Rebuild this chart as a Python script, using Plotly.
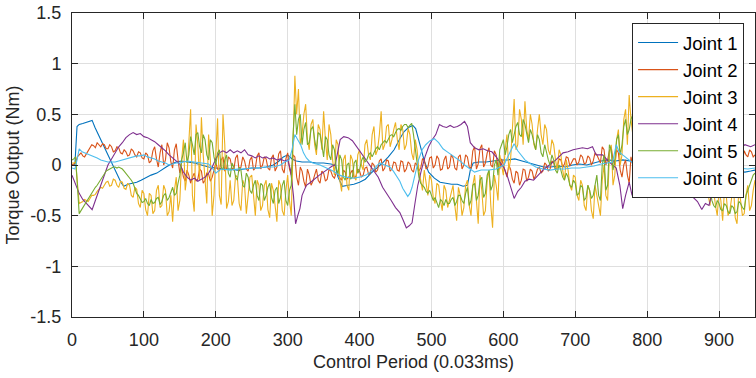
import plotly.graph_objects as go

# ---------------- data ----------------
period = list(range(0, 955, 5))                 # samples at 0, 5, ..., 950
period_mid = [p + 2.5 for p in range(0, 950, 5)]  # samples at 2.5, 7.5, ..., 947.5

joint1_pts = [(0,0.0),(4,0.0),(7,0.38),(10,0.40),(15,0.41),(20,0.42),(25,0.43),(28,0.44),(32,0.37),(38,0.28),
    (44,0.19),(50,0.10),(56,0.01),(62,-0.08),(68,-0.17),(72,-0.21),(78,-0.19),(84,-0.18),(90,-0.17),(96,-0.15),
    (104,-0.12),(110,-0.10),(118,-0.08),(124,-0.05),(131,-0.02),(138,0.01),(145,0.03),(152,0.04),(160,0.03),(170,0.02),
    (180,0.0),(190,-0.02),(200,-0.03),(210,-0.04),(220,-0.04),(230,-0.05),(240,-0.04),(250,-0.03),(260,-0.03),(270,-0.02),
    (280,0.0),(288,0.04),(294,0.08),(300,0.1),(306,0.06),(312,0.04),(320,0.03),(330,0.03),(340,0.02),(350,0.02),
    (360,0.01),(366,0.0),(370,-0.12),(376,-0.21),(384,-0.2),(392,-0.19),(400,-0.17),(408,-0.14),(416,-0.08),(424,-0.03),
    (432,0.02),(440,0.08),(448,0.15),(456,0.26),(462,0.33),(468,0.37),(474,0.39),(478,0.36),(484,0.2),(490,0.04),
    (496,-0.07),(504,-0.13),(512,-0.17),(520,-0.18),(528,-0.19),(536,-0.19),(544,-0.21),(550,-0.2),(554,-0.05),(558,0.02),
    (566,0.03),(576,0.03),(586,0.04),(596,0.05),(606,0.05),(616,0.06),(626,0.04),(636,0.02),(646,0.0),(656,-0.02),
    (666,-0.02),(676,-0.01),(686,-0.02),(696,0.0),(706,0.01),(716,0.0),(726,0.02),(736,0.04),(746,0.05),(756,0.04),
    (766,0.05),(776,0.04),(786,0.03),(796,0.02),(806,0.02),(816,0.01),(826,0.0),(836,-0.02),(846,-0.03),(856,-0.03),
    (866,-0.02),(876,-0.01),(886,0.0),(896,-0.01),(906,-0.03),(916,-0.05),(926,-0.06),(936,-0.07),(944,-0.06),(950,-0.05)]

joint2 = [0.00, 0.02, 0.10, 0.09, 0.11, 0.16, 0.19, 0.22, 0.18, 0.20,
    0.16, 0.18, 0.14, 0.17, 0.11, 0.13, 0.10, 0.14, 0.08, 0.12,
    0.06, 0.10, 0.04, 0.18, -0.02, 0.20, 0.05, 0.17, -0.03, 0.21,
    -0.08, -0.12, -0.05, -0.18, -0.08, -0.14, -0.06, -0.15, -0.09, -0.12,
    0.02, -0.06, 0.08, -0.04, 0.06, -0.05, 0.10, -0.02, 0.04, -0.06,
    0.08, -0.03, 0.12, 0.00, 0.06, -0.05, 0.10, -0.02, 0.14, -0.08,
    0.12, -0.10, 0.08, -0.20, -0.06, -0.22, -0.10, -0.16, -0.04, -0.18,
    -0.08, -0.14, -0.06, -0.13, -0.09, -0.15, -0.07, -0.12, -0.05, -0.11,
    -0.06, -0.10, -0.02, -0.08, 0.00, -0.05, 0.06, -0.03, 0.04, -0.04,
    0.02, -0.06, 0.03, -0.04, 0.01, -0.07, 0.00, -0.03, 0.05, -0.02,
    0.08, 0.00, 0.06, -0.04, 0.09, -0.02, 0.07, -0.05, 0.10, 0.00,
    0.08, -0.03, 0.18, 0.01, 0.20, 0.02, 0.17, -0.02, 0.10, -0.04,
    0.00, -0.12, -0.04, -0.18, -0.08, -0.15, -0.05, -0.12, -0.06, -0.10,
    -0.02, -0.06, 0.00, -0.04, 0.02, -0.02, 0.05, 0.01, 0.07, 0.02,
    0.06, 0.03, 0.08, 0.02, 0.07, 0.04, 0.10, 0.02, 0.15, 0.05,
    0.18, 0.00, 0.12, -0.12, 0.05, -0.18, -0.02, -0.15, -0.22, -0.10,
    -0.24, -0.12, -0.20, -0.08, -0.10, -0.02, -0.06, 0.00, -0.04, 0.02,
    -0.03, 0.03, -0.02, 0.04, 0.00, 0.05, 0.01, 0.06, 0.02, 0.05,
    0.03, 0.07, 0.02, 0.08, 0.04, 0.10, 0.06, 0.14, 0.08, 0.13,
    0.10]

joint2_mid = [0.01, 0.08, 0.12, 0.08, 0.14, 0.20, 0.17, 0.20, 0.21, 0.16,
    0.20, 0.13, 0.18, 0.12, 0.15, 0.09, 0.16, 0.10, 0.13, 0.07,
    0.12, 0.02, 0.14, 0.06, 0.12, 0.00, 0.22, 0.03, 0.15, 0.05,
    -0.03, -0.16, -0.10, -0.12, -0.16, -0.04, -0.18, -0.08, -0.16, -0.05,
    -0.04, 0.05, -0.06, 0.08, -0.03, 0.07, -0.06, 0.08, -0.04, 0.05,
    -0.05, 0.09, -0.04, 0.08, -0.03, 0.07, -0.06, 0.11, -0.04, 0.06,
    -0.04, 0.10, -0.12, -0.02, -0.16, -0.04, -0.20, -0.10, -0.15, -0.06,
    -0.16, -0.04, -0.11, -0.08, -0.13, -0.05, -0.14, -0.08, -0.13, -0.04,
    -0.12, -0.03, -0.09, 0.02, -0.07, 0.04, -0.06, 0.05, -0.06, 0.03,
    -0.05, 0.04, -0.07, 0.03, -0.05, 0.02, -0.06, 0.06, -0.04, 0.07,
    -0.03, 0.09, -0.05, 0.05, -0.04, 0.10, -0.03, 0.08, -0.04, 0.10,
    -0.02, 0.14, -0.04, 0.16, -0.02, 0.12, 0.00, 0.14, -0.02, 0.06,
    -0.08, 0.00, -0.14, -0.06, -0.20, -0.04, -0.16, -0.04, -0.14, -0.04,
    -0.08, 0.02, -0.06, 0.04, -0.05, 0.06, -0.02, 0.08, -0.01, 0.06,
    0.00, 0.10, 0.01, 0.09, 0.00, 0.12, 0.05, 0.18, 0.00, 0.14,
    0.05, 0.15, -0.05, 0.00, -0.10, 0.08, -0.08, 0.00, -0.15, -0.18,
    -0.15, -0.20, -0.10, -0.14, -0.04, -0.08, 0.02, -0.05, 0.03, -0.02,
    0.02, -0.02, 0.03, -0.01, 0.04, -0.01, 0.05, 0.00, 0.07, 0.01,
    0.06, 0.02, 0.09, 0.03, 0.06, 0.12, 0.04, 0.10, 0.15, 0.08]

joint3 = [0.02, 0.03, -0.38, -0.36, -0.35, -0.33, -0.30, -0.26, -0.22, -0.20,
    -0.16, -0.20, -0.15, -0.22, -0.17, -0.24, -0.20, -0.32, -0.24, -0.42,
    -0.28, -0.50, -0.30, -0.45, -0.20, -0.40, -0.25, -0.46, -0.56, -0.12,
    -0.35, 0.25, -0.10, 0.55, -0.46, 0.20, 0.47, -0.20, 0.30, -0.50,
    0.10, -0.30, 0.50, -0.43, -0.15, -0.35, -0.12, -0.45, -0.20, -0.30,
    -0.10, -0.50, -0.20, -0.40, -0.15, -0.52, -0.25, -0.56, -0.20, -0.50,
    -0.10, -0.50, 0.88, 0.75, 0.30, 0.60, 0.15, 0.45, 0.10, 0.35,
    0.53, 0.05, 0.30, -0.10, 0.20, -0.26, 0.10, -0.25, 0.05, -0.15,
    0.15, -0.05, 0.25, 0.05, 0.38, 0.15, 0.53, 0.20, 0.40, 0.25,
    0.42, 0.15, 0.35, 0.20, 0.30, 0.05, 0.15, -0.15, -0.05, -0.30,
    -0.15, -0.38, -0.20, -0.45, -0.25, -0.35, -0.20, -0.55, -0.30, -0.42,
    -0.15, -0.50, -0.10, -0.58, -0.25, -0.45, -0.05, -0.62, -0.20, 0.10,
    -0.10, 0.30, 0.05, 0.65, 0.20, 0.45, 0.63, 0.25, 0.40, 0.15,
    0.50, 0.20, 0.35, 0.10, 0.20, -0.05, 0.10, -0.15, -0.05, -0.25,
    -0.12, -0.35, -0.20, -0.45, -0.25, -0.53, -0.30, -0.50, 0.00, -0.35,
    0.20, -0.10, 0.35, 0.10, 0.55, 0.69, 0.30, 0.50, 0.10, -0.10,
    -0.15, 0.05, -0.10, 0.10, -0.05, 0.15, 0.00, 0.10, -0.05, 0.08,
    -0.10, 0.00, -0.12, -0.05, -0.15, -0.10, -0.20, -0.30, -0.15, -0.40,
    -0.25, -0.55, -0.30, -0.45, -0.20, -0.58, -0.35, -0.48, -0.20, -0.40,
    -0.15]

joint3_mid = [0.02, -0.20, -0.37, -0.34, -0.36, -0.30, -0.29, -0.24, -0.23, -0.17,
    -0.21, -0.14, -0.20, -0.16, -0.23, -0.18, -0.30, -0.22, -0.38, -0.25,
    -0.44, -0.28, -0.48, -0.25, -0.42, -0.20, -0.50, -0.30, -0.25, -0.45,
    0.05, -0.25, 0.30, -0.30, 0.40, -0.15, 0.10, -0.38, 0.05, -0.30,
    0.46, -0.39, 0.20, -0.36, -0.40, -0.10, -0.38, -0.15, -0.48, -0.12,
    -0.35, -0.15, -0.45, -0.20, -0.44, -0.18, -0.40, -0.15, -0.45, -0.25,
    -0.35, 0.20, 0.50, 0.20, 0.50, 0.25, 0.40, 0.20, 0.40, 0.15,
    0.25, 0.40, 0.05, 0.25, -0.15, 0.05, -0.20, 0.10, -0.12, 0.10,
    0.00, 0.20, 0.10, 0.30, 0.10, 0.30, 0.15, 0.38, 0.18, 0.35,
    0.25, 0.40, 0.15, 0.36, 0.12, 0.25, -0.05, -0.25, -0.20, -0.10,
    -0.32, -0.18, -0.35, -0.20, -0.42, -0.28, -0.40, -0.22, -0.50, -0.20,
    -0.40, -0.20, -0.35, -0.10, -0.50, -0.15, -0.40, -0.10, -0.35, 0.00,
    0.15, -0.05, 0.35, 0.15, 0.55, 0.20, 0.35, 0.50, 0.20, 0.35,
    0.30, 0.40, 0.15, 0.25, 0.05, 0.15, -0.05, 0.05, -0.20, -0.10,
    -0.30, -0.15, -0.40, -0.20, -0.45, -0.20, -0.40, -0.15, -0.30, 0.10,
    -0.20, 0.25, 0.00, 0.45, 0.20, 0.45, 0.60, 0.20, 0.30, 0.05,
    0.00, -0.15, 0.05, -0.10, 0.10, -0.05, 0.12, -0.08, 0.05, -0.12,
    0.02, -0.15, 0.00, -0.20, -0.05, -0.28, -0.12, -0.40, -0.25, -0.50,
    -0.35, -0.25, -0.50, -0.30, -0.52, -0.25, -0.50, -0.30, -0.45, -0.25]

joint4_pts = [(0,-0.1),(5,-0.2),(10,-0.28),(15,-0.34),(20,-0.38),(25,-0.42),(28,-0.44),(32,-0.36),(36,-0.28),(40,-0.2),
    (45,-0.1),(50,0.0),(55,0.06),(60,0.12),(65,0.18),(70,0.22),(75,0.27),(80,0.3),(85,0.32),(90,0.3),
    (95,0.31),(100,0.28),(105,0.27),(110,0.25),(115,0.23),(120,0.2),(125,0.17),(130,0.14),(135,0.1),(140,0.07),
    (145,0.04),(150,0.01),(155,-0.07),(160,-0.12),(165,-0.15),(170,-0.13),(175,-0.16),(180,-0.14),(185,-0.12),(190,-0.08),
    (195,-0.02),(200,0.06),(205,0.12),(210,0.14),(215,0.12),(220,0.15),(225,0.12),(230,0.14),(235,0.12),(240,0.15),
    (245,0.1),(250,0.09),(255,0.07),(260,0.09),(265,0.07),(270,0.08),(275,0.06),(280,0.07),(285,0.05),(290,0.06),
    (295,0.04),(300,0.05),(304,-0.05),(308,-0.3),(311,-0.58),(314,-0.5),(317,-0.43),(320,-0.3),(326,-0.2),(332,-0.17),
    (338,-0.13),(344,-0.1),(350,-0.07),(356,-0.04),(362,-0.01),(366,0.0),(370,0.15),(373,0.25),(378,0.28),(384,0.27),
    (390,0.24),(396,0.18),(402,0.12),(408,0.06),(414,0.0),(420,-0.06),(426,-0.12),(432,-0.22),(438,-0.28),(444,-0.35),
    (450,-0.42),(456,-0.47),(461,-0.55),(465,-0.62),(469,-0.6),(473,-0.57),(477,-0.38),(481,-0.2),(486,-0.05),(491,0.08),
    (496,0.18),(501,0.25),(506,0.3),(511,0.4),(516,0.38),(521,0.37),(526,0.39),(531,0.37),(536,0.38),(541,0.4),
    (546,0.43),(550,0.38),(554,0.22),(560,0.17),(566,0.15),(572,0.16),(578,0.14),(584,0.13),(590,0.08),(596,0.02),
    (601,-0.03),(606,-0.12),(611,-0.23),(615,-0.33),(620,-0.26),(625,-0.22),(630,-0.16),(636,-0.14),(642,-0.15),(648,-0.1),
    (655,-0.05),(664,0.0),(673,0.05),(683,0.12),(690,0.13),(697,0.15),(704,0.16),(710,0.17),(717,0.16),(724,0.18),
    (729,0.1),(738,0.1),(747,0.03),(752,0.0),(757,-0.03),(762,-0.2),(766,-0.43),(770,-0.3),(775,-0.17),(779,-0.3),
    (783,-0.1),(790,0.0),(800,0.05),(810,0.08),(820,0.1),(830,0.08),(840,0.0),(846,-0.1),(852,-0.18),(858,-0.25),
    (864,-0.32),(870,-0.36),(876,-0.44),(881,-0.38),(886,-0.4),(891,-0.25),(896,-0.15),(902,-0.05),(908,0.0),(914,0.05),
    (920,0.1),(928,0.16),(936,0.2),(944,0.18),(950,0.2)]

joint5 = [0.05, 0.08, -0.48, -0.42, -0.37, -0.30, -0.25, -0.20, -0.14, -0.08,
    -0.05, -0.03, -0.02, -0.02, -0.04, -0.08, -0.12, -0.18, -0.28, -0.33,
    -0.36, -0.38, -0.34, -0.37, -0.32, -0.36, -0.28, -0.32, -0.22, -0.28,
    -0.10, 0.12, 0.02, 0.28, 0.10, 0.32, 0.12, 0.25, 0.05, 0.22,
    0.00, 0.15, -0.05, 0.10, -0.12, -0.02, -0.15, -0.05, -0.22, -0.12,
    -0.28, -0.15, -0.35, -0.20, -0.30, -0.18, -0.38, -0.22, -0.32, -0.15,
    -0.40, -0.20, 0.60, 0.45, 0.20, 0.42, 0.22, 0.38, 0.15, 0.30,
    0.08, 0.25, 0.05, 0.15, -0.10, 0.05, -0.15, 0.02, -0.12, 0.05,
    -0.05, 0.08, 0.05, 0.12, 0.12, 0.18, 0.20, 0.24, 0.26, 0.30,
    0.32, 0.36, 0.38, 0.40, 0.39, 0.30, 0.00, -0.18, -0.22, -0.28,
    -0.30, -0.32, -0.42, -0.36, -0.34, -0.38, -0.32, -0.36, -0.30, -0.38,
    -0.22, -0.35, -0.18, -0.30, -0.12, -0.28, -0.05, -0.20, 0.05, 0.15,
    0.25, 0.18, 0.35, 0.30, 0.42, 0.28, 0.40, 0.22, 0.30, 0.15,
    0.25, 0.08, 0.12, 0.00, 0.05, -0.08, -0.05, -0.15, -0.12, -0.22,
    -0.18, -0.28, -0.22, -0.32, -0.25, -0.30, -0.10, -0.35, 0.10, -0.20,
    0.15, 0.05, 0.30, 0.20, 0.45, 0.35, 0.50, 0.30, 0.15, 0.05,
    0.10, -0.05, 0.05, -0.10, 0.00, -0.08, 0.02, -0.10, -0.05, -0.12,
    -0.08, -0.15, -0.12, -0.18, -0.15, -0.20, -0.25, -0.30, -0.35, -0.42,
    -0.38, -0.45, -0.40, -0.48, -0.42, -0.46, -0.38, -0.44, -0.25, -0.15,
    -0.08]

joint5_mid = [0.06, -0.20, -0.45, -0.40, -0.33, -0.28, -0.22, -0.17, -0.11, -0.06,
    -0.04, -0.02, -0.03, -0.03, -0.06, -0.10, -0.15, -0.24, -0.30, -0.37,
    -0.33, -0.40, -0.38, -0.33, -0.39, -0.30, -0.35, -0.26, -0.30, -0.18,
    0.05, 0.22, 0.10, 0.20, 0.30, 0.18, 0.30, 0.10, 0.25, 0.08,
    0.12, -0.02, 0.05, -0.08, 0.02, -0.12, -0.02, -0.20, -0.08, -0.25,
    -0.20, -0.30, -0.18, -0.35, -0.22, -0.32, -0.25, -0.38, -0.20, -0.35,
    -0.25, 0.30, 0.30, 0.50, 0.35, 0.20, 0.35, 0.25, 0.32, 0.20,
    0.28, 0.10, 0.20, -0.02, 0.10, -0.12, 0.00, -0.14, 0.02, -0.08,
    0.04, 0.03, 0.10, 0.08, 0.16, 0.15, 0.22, 0.22, 0.29, 0.28,
    0.35, 0.34, 0.40, 0.37, 0.41, 0.15, -0.12, -0.20, -0.26, -0.25,
    -0.35, -0.38, -0.34, -0.40, -0.38, -0.34, -0.40, -0.30, -0.35, -0.28,
    -0.40, -0.20, -0.35, -0.15, -0.32, -0.10, -0.25, 0.00, -0.10, 0.20,
    0.10, 0.30, 0.22, 0.38, 0.30, 0.45, 0.30, 0.35, 0.22, 0.30,
    0.12, 0.20, 0.05, 0.10, -0.05, 0.00, -0.12, -0.08, -0.20, -0.15,
    -0.30, -0.20, -0.35, -0.20, -0.33, -0.20, -0.30, 0.00, -0.25, 0.20,
    -0.05, 0.25, 0.10, 0.38, 0.30, 0.45, 0.40, 0.20, 0.10, 0.12,
    -0.02, 0.08, -0.08, 0.04, -0.10, 0.00, -0.08, -0.02, -0.10, -0.06,
    -0.14, -0.10, -0.20, -0.12, -0.22, -0.20, -0.30, -0.25, -0.40, -0.35,
    -0.44, -0.38, -0.46, -0.40, -0.48, -0.36, -0.42, -0.30, -0.20, -0.10]

joint6_pts = [(0,-0.03),(4,-0.04),(7,0.05),(10,0.16),(14,0.13),(18,0.12),(22,0.11),(26,0.1),(30,0.09),(35,0.07),
    (40,0.05),(45,0.04),(50,0.03),(55,0.03),(60,0.03),(65,0.04),(70,0.05),(75,0.06),(80,0.07),(85,0.08),
    (90,0.09),(95,0.09),(100,0.1),(105,0.08),(110,0.07),(115,0.06),(120,0.04),(125,0.03),(130,0.02),(135,0.0),
    (140,0.01),(145,0.02),(150,0.02),(155,0.03),(160,0.04),(170,0.03),(180,0.02),(190,0.01),(195,-0.03),(200,-0.08),
    (205,-0.05),(210,-0.04),(220,-0.05),(230,-0.04),(240,-0.04),(250,-0.03),(260,-0.03),(270,-0.02),(280,-0.02),(290,0.0),
    (296,0.03),(302,0.05),(306,0.15),(310,0.3),(314,0.25),(318,0.2),(322,0.12),(326,0.07),(330,0.04),(335,0.02),
    (345,0.0),(354,-0.03),(363,-0.06),(372,-0.1),(381,-0.12),(391,-0.13),(400,-0.12),(409,-0.1),(418,-0.05),(428,0.02),
    (435,0.0),(442,-0.02),(447,-0.06),(451,-0.1),(456,-0.16),(460,-0.23),(464,-0.28),(467,-0.31),(470,-0.28),(473,-0.22),
    (477,-0.1),(482,0.05),(487,0.15),(492,0.2),(498,0.24),(504,0.26),(510,0.22),(516,0.16),(522,0.13),(530,0.09),
    (538,0.05),(546,0.0),(552,-0.03),(560,-0.07),(569,-0.05),(580,-0.05),(590,-0.04),(596,-0.02),(601,0.0),(606,0.08),
    (611,0.16),(615,0.21),(620,0.14),(624,0.1),(630,0.05),(636,0.02),(645,-0.02),(655,-0.04),(665,-0.05),(675,-0.04),
    (685,-0.04),(695,-0.03),(706,-0.03),(716,-0.02),(726,-0.01),(736,0.01),(746,0.02),(752,0.03),(757,0.2),(761,0.13),
    (766,0.1),(771,0.07),(775,0.05),(780,0.02),(786,-0.05),(792,-0.15),(800,-0.2),(810,-0.21),(820,-0.2),(830,-0.2),
    (840,-0.21),(848,-0.19),(856,-0.12),(866,-0.06),(880,-0.03),(895,-0.02),(910,-0.02),(925,-0.03),(940,-0.04),(950,-0.03)]

series_names = ["Joint 1", "Joint 2", "Joint 3", "Joint 4", "Joint 5", "Joint 6"]
colors = ["#0072BD", "#D95319", "#EDB120", "#7E2F8E", "#77AC30", "#4DBEEE"]

x_ticks = [0, 100, 200, 300, 400, 500, 600, 700, 800, 900]
y_ticks = [-1.5, -1, -0.5, 0, 0.5, 1, 1.5]
y_tick_labels = ["-1.5", "-1", "-0.5", "0", "0.5", "1", "1.5"]

# ---------------- build ----------------
def unzip(pts):
    return [p[0] for p in pts], [p[1] for p in pts]

def merge(main, mid):
    pts = sorted(list(zip(period, main)) + list(zip(period_mid, mid)))
    return unzip(pts)

x1, y1 = unzip(joint1_pts)
x2, y2 = merge(joint2, joint2_mid)
x3, y3 = merge(joint3, joint3_mid)
x4, y4 = unzip(joint4_pts)
x5, y5 = merge(joint5, joint5_mid)
x6, y6 = unzip(joint6_pts)

traces_xy = [(x1, y1), (x2, y2), (x3, y3), (x4, y4), (x5, y5), (x6, y6)]

fig = go.Figure()
for i, (xs, ys) in enumerate(traces_xy):
    fig.add_trace(go.Scatter(x=xs, y=ys, mode="lines", name=series_names[i],
                             line=dict(color=colors[i], width=1.1)))

axis_color = "#262626"
grid_color = "#dfdfdf"
font_family = "Arial, Liberation Sans, sans-serif"

fig.update_layout(
    width=756, height=378,
    margin=dict(l=72, r=1, t=13, b=61),
    paper_bgcolor="white", plot_bgcolor="white",
    font=dict(family=font_family, color=axis_color, size=17),
    showlegend=True,
    legend=dict(x=0.984, y=0.967, xanchor="right", yanchor="top",
                bgcolor="white", bordercolor=axis_color, borderwidth=1,
                font=dict(size=18.5, color="#000000"), itemwidth=40),
    xaxis=dict(range=[0, 950], tickvals=x_ticks, showgrid=True, gridcolor=grid_color,
               zeroline=False, showline=True, linecolor=axis_color, linewidth=1, mirror="ticks",
               ticks="inside", ticklen=6, tickcolor=axis_color, tickfont=dict(size=18),
               ticklabelstandoff=6,
               title=dict(text="Control Period (0.033ms)", font=dict(size=18), standoff=6)),
    yaxis=dict(range=[-1.5, 1.5], tickvals=y_ticks, ticktext=y_tick_labels, showgrid=True,
               gridcolor=grid_color, zeroline=False, showline=True, linecolor=axis_color, linewidth=1,
               mirror="ticks", ticks="inside", ticklen=6, tickcolor=axis_color, tickfont=dict(size=18),
               ticklabelstandoff=6,
               title=dict(text="Torque Output (Nm)", font=dict(size=18), standoff=6)),
)

fig.write_html("out.html", config={"displayModeBar": False},
               post_script="document.body.style.margin='0';")
